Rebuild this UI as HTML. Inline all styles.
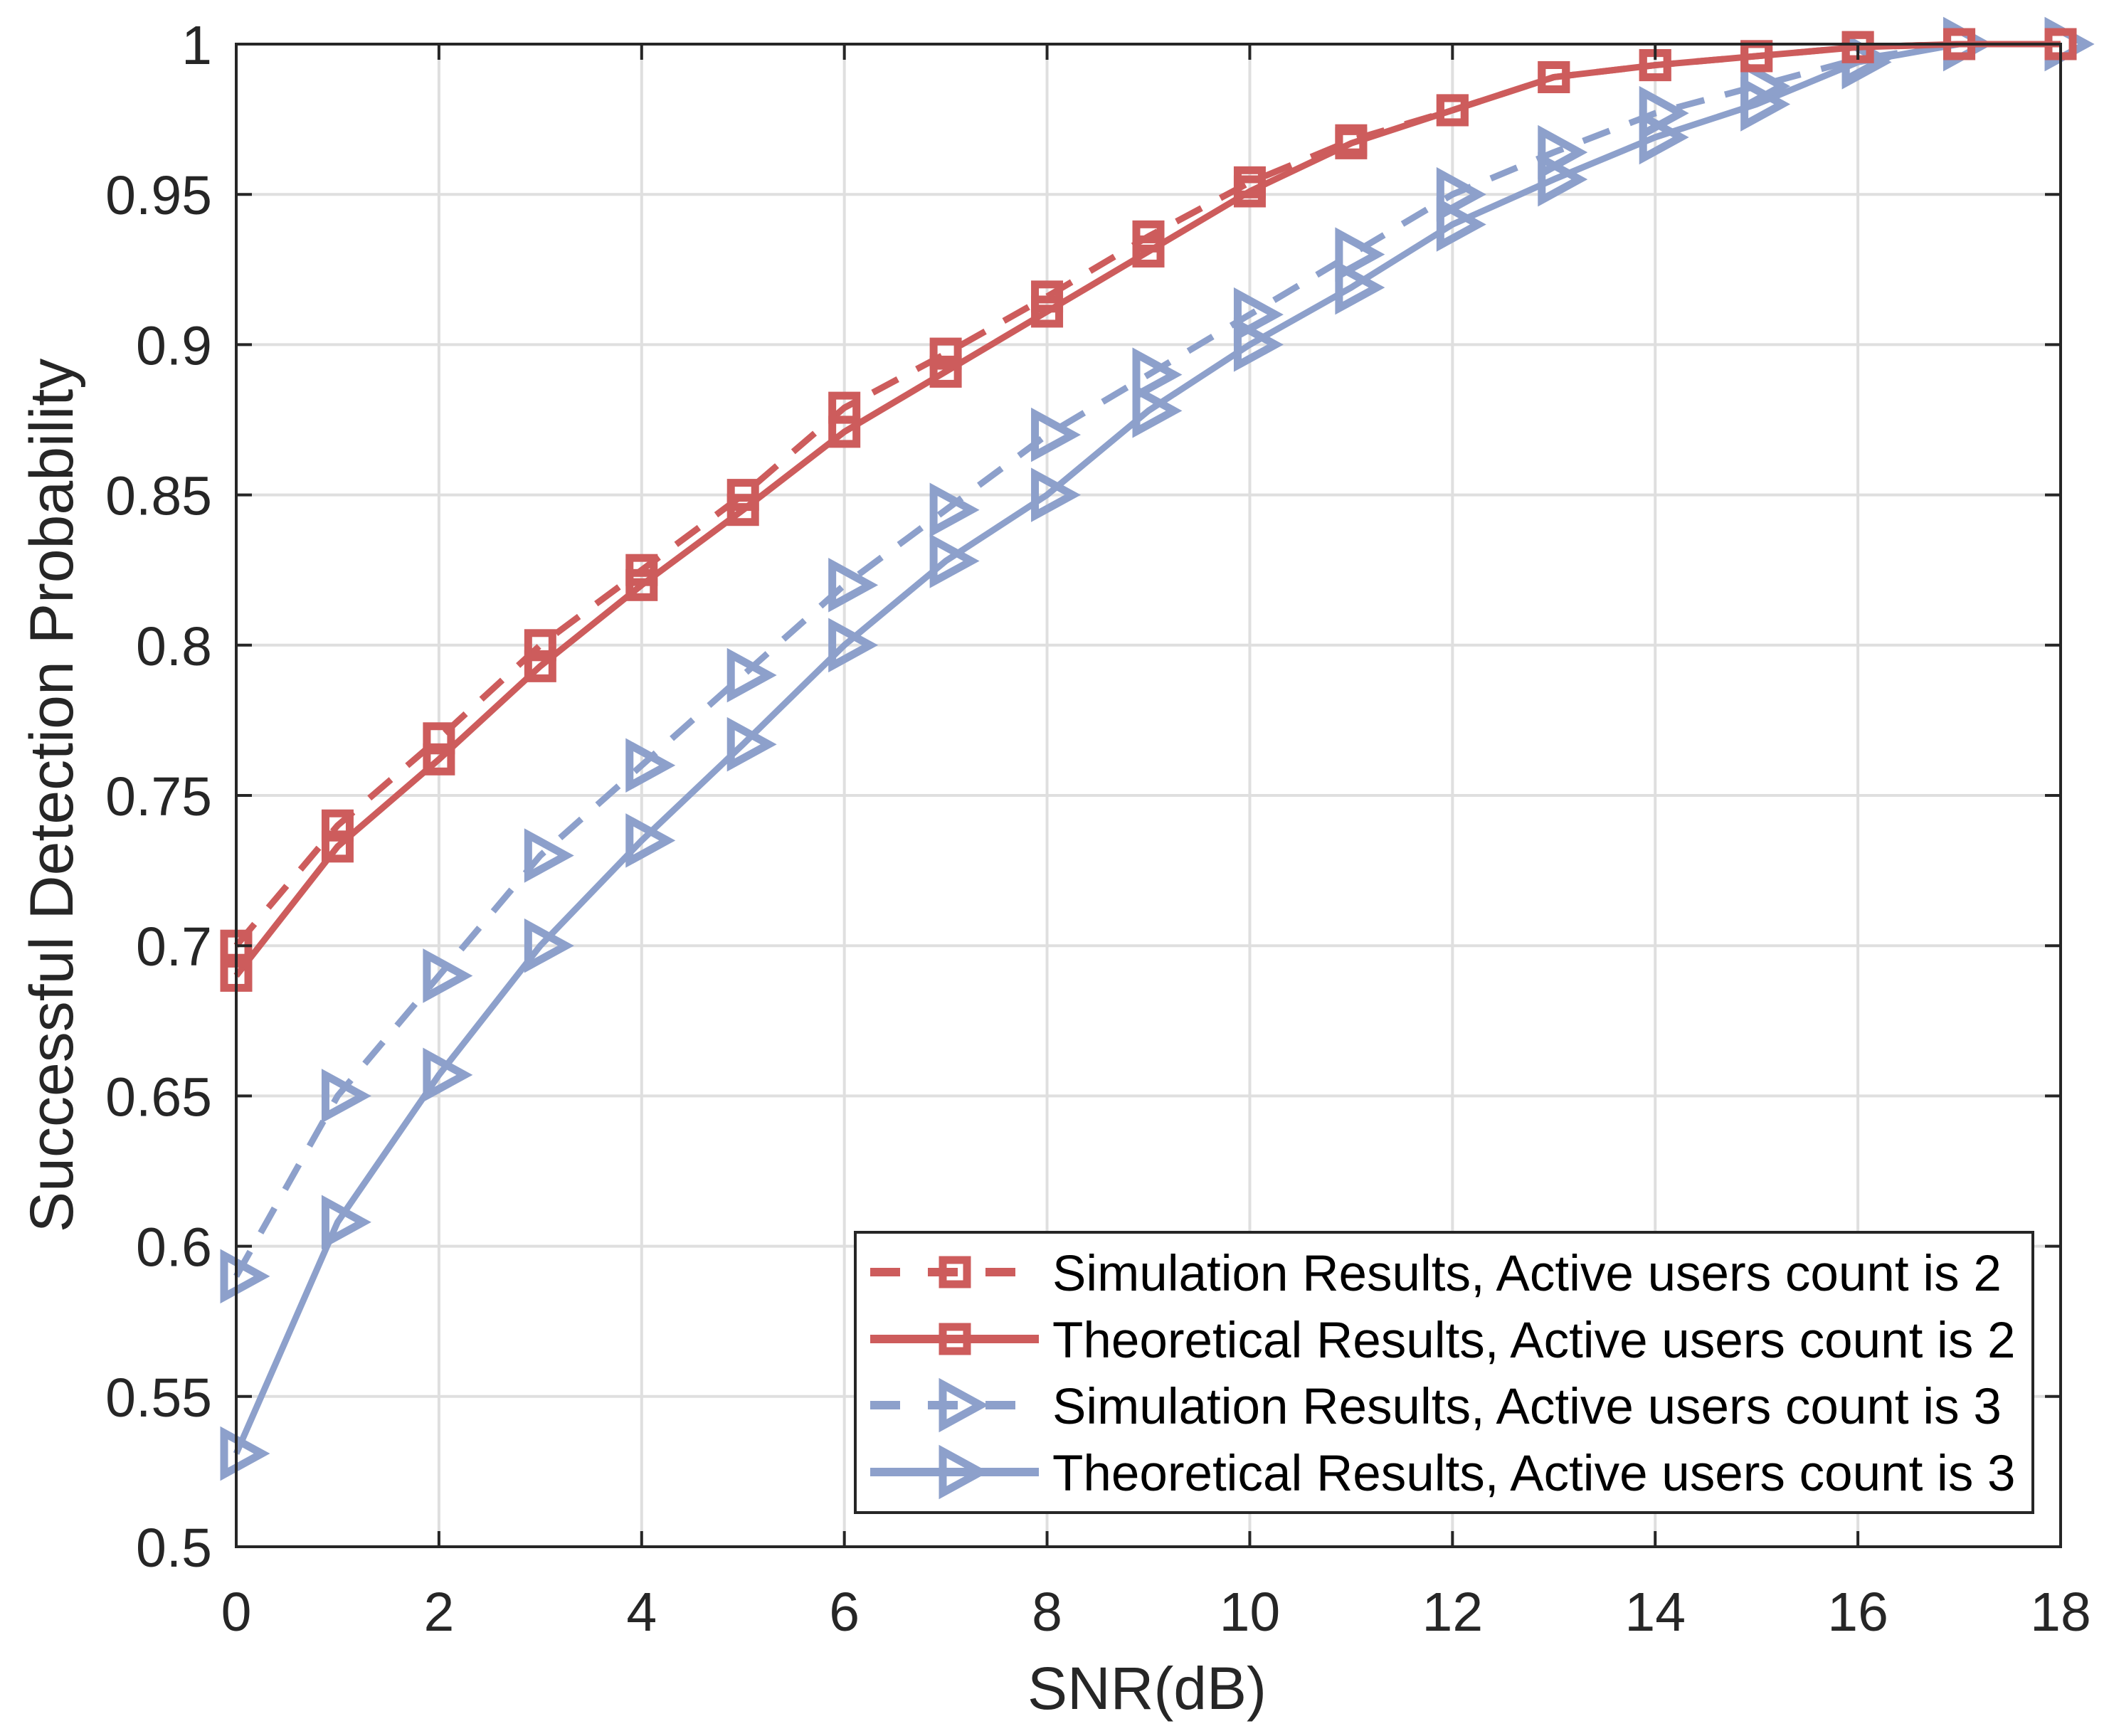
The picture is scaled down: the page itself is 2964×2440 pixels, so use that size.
<!DOCTYPE html>
<html><head><meta charset="utf-8"><style>
html,body{margin:0;padding:0;background:#fff;}
svg{display:block;font-family:"Liberation Sans",sans-serif;}
</style></head><body>
<svg id="chart" width="2964" height="2440" viewBox="0 0 2964 2440" xmlns="http://www.w3.org/2000/svg">
<rect width="2964" height="2440" fill="#fff"/>
<g id="grid"></g>
<g id="series"></g>
<g id="axes"></g>
<text x="1612" y="2402" font-size="84" text-anchor="middle" fill="#262626">SNR(dB)</text>
<text transform="translate(102,1118) rotate(-90)" font-size="86" text-anchor="middle" fill="#262626">Successful Detection Probability</text>
<g id="legend"></g>
</svg>
<script>
const snr = [0,1,2,3,4,5,6,7,8,9,10,11,12,13,14,15,16,17,18];
const sim2 = [0.700,0.740,0.769,0.800,0.825,0.850,0.879,0.897,0.916,0.936,0.954,0.968,0.978,0.989,0.993,0.996,0.999,1.0,1.0];
const theo2 = [0.690,0.733,0.762,0.793,0.820,0.845,0.871,0.891,0.911,0.931,0.951,0.967,0.978,0.989,0.993,0.996,0.999,1.0,1.0];
const sim3 = [0.590,0.650,0.690,0.730,0.760,0.790,0.820,0.845,0.870,0.890,0.910,0.930,0.950,0.964,0.977,0.986,0.995,1.0,1.0];
const theo3 = [0.531,0.608,0.657,0.700,0.735,0.767,0.800,0.828,0.850,0.878,0.900,0.919,0.940,0.955,0.969,0.980,0.994,1.0,1.0];
const xTicks = [0,2,4,6,8,10,12,14,16,18];
const yTicks = [0.5,0.55,0.6,0.65,0.7,0.75,0.8,0.85,0.9,0.95,1];
const yTickLabels = ["0.5","0.55","0.6","0.65","0.7","0.75","0.8","0.85","0.9","0.95","1"];
const legendLabels = ["Simulation Results, Active users count is 2","Theoretical Results, Active users count is 2","Simulation Results, Active users count is 3","Theoretical Results, Active users count is 3"];

const NS="http://www.w3.org/2000/svg";
const L=332,R=2896,T=62,B=2174;
const xS=v=>L+(v-0)/(18-0)*(R-L);
const yS=v=>B-(v-0.5)/(1-0.5)*(B-T);
const RED="#CD5C5C", BLUE="#8DA0CB";
function mk(tag,attrs,parent){const e=document.createElementNS(NS,tag);for(const k in attrs)e.setAttribute(k,attrs[k]);parent.appendChild(e);return e;}
const grid=document.getElementById('grid'),axes=document.getElementById('axes'),series=document.getElementById('series'),legend=document.getElementById('legend');

xTicks.forEach(t=>{
  const g=mk('line',{x1:xS(t),x2:xS(t),y1:T,y2:B,stroke:'#dfdfdf','stroke-width':4},grid);
  
  
  const tk1=mk('line',{x1:xS(t),x2:xS(t),y1:B,y2:B-22,stroke:'#262626','stroke-width':4},axes);
  
  
  const tk2=mk('line',{x1:xS(t),x2:xS(t),y1:T,y2:T+22,stroke:'#262626','stroke-width':4},axes);
  
  
  const tx=mk('text',{x:xS(t),y:2292,'font-size':77,'text-anchor':'middle',fill:'#262626'},axes);
  tx.textContent=t;
  
  
});
yTicks.forEach((t,i)=>{
  const g=mk('line',{x1:L,x2:R,y1:yS(t),y2:yS(t),stroke:'#dfdfdf','stroke-width':4},grid);
  
  
  const tk1=mk('line',{x1:L,x2:L+22,y1:yS(t),y2:yS(t),stroke:'#262626','stroke-width':4},axes);
  
  
  const tk2=mk('line',{x1:R,x2:R-22,y1:yS(t),y2:yS(t),stroke:'#262626','stroke-width':4},axes);
  
  
  const tx=mk('text',{x:298,y:yS(t)+28,'font-size':77,'text-anchor':'end',fill:'#262626'},axes);
  tx.textContent=yTickLabels[i];
  
  
});
const frame=mk('rect',{x:L,y:T,width:R-L,height:B-T,fill:'none',stroke:'#262626','stroke-width':4},axes);



function square(x,y,color,parent){
  const s=mk('rect',{x:x-17,y:y-17,width:34,height:34,fill:'none',stroke:color,'stroke-width':11},parent);
  
  
}
function tri(x,y,color,parent){
  const p=mk('polygon',{points:`${x-17},${y-29} ${x-17},${y+29} ${x+36},${y}`,fill:'none',stroke:color,'stroke-width':11,'stroke-linejoin':'miter'},parent);
  
  
}
function drawSeries(vals,color,dashed,marker,name){
  const g=mk('g',{},series);
  
  
  const pts=snr.map((s,i)=>xS(s)+','+yS(vals[i])).join(' ');
  const a={points:pts,fill:'none',stroke:color,'stroke-width':9,'stroke-linejoin':'round'};
  if(dashed)a['stroke-dasharray']='40 30';
  const pl=mk('polyline',a,g);
  
  
  snr.forEach((s,i)=>marker(xS(s),yS(vals[i]),color,g));
}
drawSeries(theo3,BLUE,false,tri,'theoretical-users-3');
drawSeries(sim3,BLUE,true,tri,'simulation-users-3');
drawSeries(theo2,RED,false,square,'theoretical-users-2');
drawSeries(sim2,RED,true,square,'simulation-users-2');

const lb=mk('rect',{x:1202,y:1732,width:1655,height:394,fill:'#fff',stroke:'#262626','stroke-width':4},legend);


const lc=[RED,RED,BLUE,BLUE],ld=[true,false,true,false],lm=[square,square,tri,tri],ly=[1788,1882,1975,2069];
legendLabels.forEach((lab,i)=>{
  const g=mk('g',{},legend);
  
  
  const a={x1:1223,x2:1460,y1:ly[i],y2:ly[i],stroke:lc[i],'stroke-width':12};
  if(ld[i])a['stroke-dasharray']='42 39';
  mk('line',a,g);
  lm[i](1342,ly[i],lc[i],g);
  const t=mk('text',{x:1479,y:ly[i]+26,'font-size':71,fill:'#000'},g);
  t.textContent=lab;
  
  
});
</script>
</body></html>
